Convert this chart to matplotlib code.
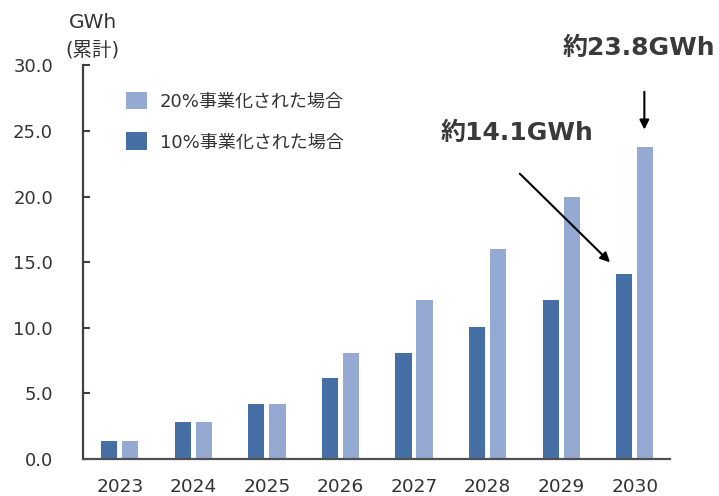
import numpy as np
import matplotlib.pyplot as plt

plt.rcParams['font.family'] = ['DejaVu Sans', 'Noto Sans CJK JP']

years = ['2023', '2024', '2025', '2026', '2027', '2028', '2029', '2030']
case_10 = [1.4, 2.8, 4.2, 6.2, 8.1, 10.1, 12.1, 14.1]
case_20 = [1.4, 2.8, 4.2, 8.1, 12.1, 16.0, 20.0, 23.8]
label_10 = '10%事業化された場合'
label_20 = '20%事業化された場合'
yticks = [0, 5, 10, 15, 20, 25, 30]

dark = '#4670a5'
light = '#94aad2'
txt = '#333333'
mix = ['DejaVu Sans', 'Noto Sans CJK JP']

fig = plt.figure(figsize=(7.19, 4.96), dpi=100)
ax = fig.add_axes([0.1154, 0.0746, 0.8166, 0.7934])

x = np.arange(len(years))
w = 0.22
ax.bar(x - 0.143, case_10, w, color=dark, label=label_10)
ax.bar(x + 0.143, case_20, w, color=light, label=label_20)

ax.set_xlim(-0.5, 7.48)
ax.set_ylim(0, 30)
ax.set_xticks(x)
ax.set_xticklabels(years, fontsize=13.3, color=txt)
ax.set_yticks(yticks)
ax.set_yticklabels([f'{v:.1f}' for v in yticks], fontsize=13, color=txt)
ax.tick_params(axis='x', length=0, pad=14)
ax.tick_params(axis='y', direction='in', length=5, width=1.5, color='#404040', pad=21.5)

for s in ['top', 'right']:
    ax.spines[s].set_visible(False)
ax.spines['left'].set_color('#404040')
ax.spines['left'].set_linewidth(1.6)
ax.spines['bottom'].set_color('#505050')
ax.spines['bottom'].set_linewidth(1.6)

# unit label
fig.text(0.129, 0.954, 'GWh', fontsize=14.5, color=txt, ha='center', va='center')
fig.text(0.128, 0.899, '(累計)', fontsize=14, color=txt, ha='center', va='center', family=mix)

# legend (20% first)
h, l = ax.get_legend_handles_labels()
ax.legend(h[::-1], l[::-1], loc='upper left', bbox_to_anchor=(0.046, 0.975),
          frameon=False, prop={'family': mix, 'size': 13},
          handlelength=1.15, handleheight=1.15, handletextpad=0.7, labelspacing=1.2,
          labelcolor=txt)

# annotations
ax.annotate('', xy=(7 + 0.13, 24.9), xytext=(7 + 0.13, 28.2),
            arrowprops=dict(arrowstyle='-|>', color='black', lw=1.5, mutation_scale=14))
fig.text(0.888, 0.903, '約23.8GWh', fontsize=18, fontweight='bold', color='#3a3a3a',
         ha='center', va='center', family=mix)
ax.annotate('', xy=(6.69, 14.85), xytext=(5.41, 21.9),
            arrowprops=dict(arrowstyle='-|>', color='black', lw=1.5, mutation_scale=14))
fig.text(0.719, 0.732, '約14.1GWh', fontsize=18, fontweight='bold', color='#3a3a3a',
         ha='center', va='center', family=mix)

fig.savefig('out.png', dpi=100, facecolor='white')
